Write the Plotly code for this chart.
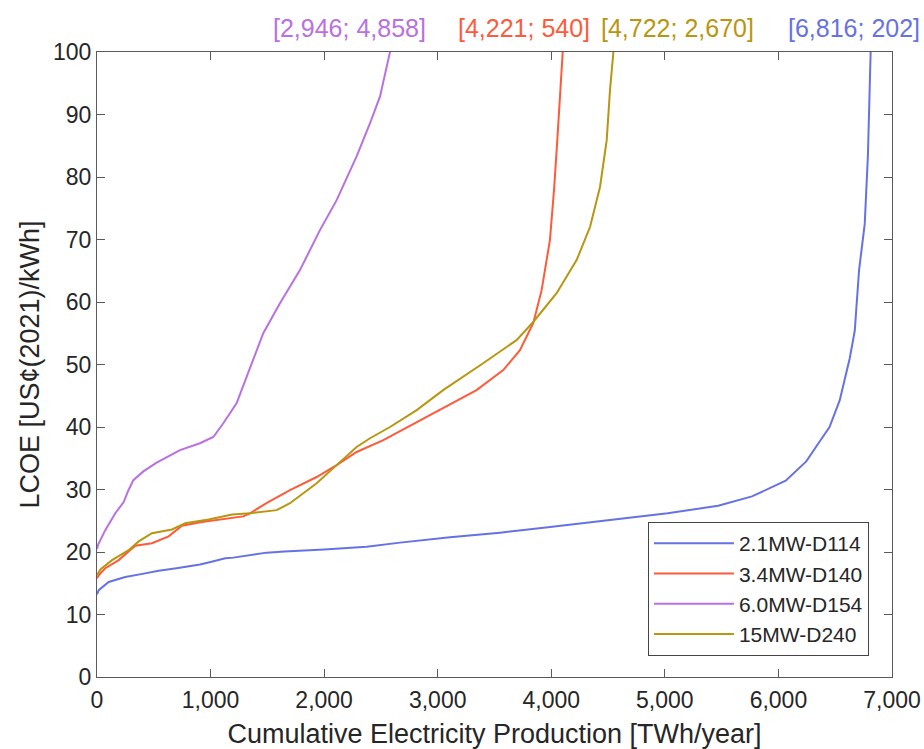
import plotly.graph_objects as go

# ---- data ----
names = ["2.1MW-D114", "3.4MW-D140", "6.0MW-D154", "15MW-D240"]

blue_x = [0, 15, 103, 249, 400, 543, 700, 836, 907, 1000, 1130, 1200, 1350, 1494, 1650, 1787, 2000,
          2374, 2668, 3108, 3548, 3990, 4580, 5025, 5470, 5767, 6064, 6245, 6360, 6450, 6540, 6597,
          6628, 6672, 6710, 6760, 6788, 6812, 6816]
blue_y = [13.2, 13.9, 15.2, 16.0, 16.5, 17.0, 17.4, 17.8, 18.0, 18.4, 19.0, 19.1, 19.5, 19.9, 20.1,
          20.2, 20.4, 20.85, 21.5, 22.35, 23.1, 24.0, 25.3, 26.2, 27.4, 28.9, 31.4, 34.5, 37.6, 40.0,
          44.3, 48.6, 51.0, 55.4, 65.1, 72.5, 83.5, 100, 202]

red_x = [0, 30, 73, 191, 337, 484, 631, 700, 748, 924, 1189, 1288, 1347, 1500, 1699, 1934, 2110,
         2286, 2521, 2961, 3342, 3577, 3724, 3841, 3915, 3988, 4024, 4053, 4077, 4100, 4221]
red_y = [15.8, 16.6, 17.4, 18.7, 21.0, 21.4, 22.5, 23.5, 24.2, 24.8, 25.4, 25.7, 26.2, 27.9, 29.9,
         32.0, 33.9, 36.0, 37.9, 42.2, 45.9, 49.1, 52.3, 56.6, 61.9, 69.9, 77.9, 85.9, 93.9, 99.8, 540]

purple_x = [0, 10, 73, 161, 235, 275, 320, 408, 525, 731, 907, 1024, 1112, 1229, 1273, 1376, 1464,
            1611, 1787, 1963, 2110, 2286, 2404, 2492, 2551, 2580, 2946]
purple_y = [20.5, 21.2, 23.5, 26.2, 28.0, 29.8, 31.5, 32.9, 34.3, 36.3, 37.4, 38.4, 40.6, 43.8, 45.9,
            50.7, 55.0, 59.8, 65.1, 71.5, 76.3, 83.3, 88.6, 92.9, 97.7, 100, 4858]

gold_x = [0, 30, 132, 279, 367, 484, 660, 777, 983, 1189, 1347, 1450, 1582, 1699, 1934, 2110, 2286,
          2404, 2580, 2815, 3048, 3400, 3694, 3841, 4047, 4223, 4341, 4429, 4488, 4517, 4546, 4722]
gold_y = [16.3, 17.2, 18.7, 20.3, 21.7, 23.0, 23.6, 24.6, 25.2, 26.0, 26.2, 26.4, 26.7, 27.8, 31.0,
          33.9, 36.8, 38.2, 40.0, 42.7, 45.9, 50.2, 53.9, 56.8, 61.4, 66.7, 72.0, 78.4, 85.9, 93.9,
          99.8, 2670]

max_labels = ["[6,816; 202]", "[4,221; 540]", "[2,946; 4,858]", "[4,722; 2,670]"]

x_ticks = [0, 1000, 2000, 3000, 4000, 5000, 6000, 7000]
y_ticks = [0, 10, 20, 30, 40, 50, 60, 70, 80, 90, 100]

# ---- styling ----
colors = ["#6672e3", "#ff5a3a", "#b870e3", "#b8960f"]
label_pos = [(1.0377, "right"), (0.537, "center"), (0.317, "center"), (0.730, "center")]
FONT = "Liberation Sans, Arial, Helvetica, sans-serif"
AX = "#5a5a5a"

fig = go.Figure()
series = [(blue_x, blue_y), (red_x, red_y), (purple_x, purple_y), (gold_x, gold_y)]
for (xs, ys), nm, c in zip(series, names, colors):
    fig.add_trace(go.Scatter(x=xs, y=ys, mode="lines", name=nm,
                             line=dict(color=c, width=2)))

for lab, (px, anc), c in zip(max_labels, label_pos, colors):
    fig.add_annotation(text=lab, xref="paper", yref="paper", x=px, y=1.0376,
                       xanchor=anc, yanchor="middle", showarrow=False,
                       font=dict(family=FONT, size=25, color=c))

fig.update_layout(
    width=924, height=749,
    margin=dict(l=97, r=32, t=52, b=72, autoexpand=False),
    plot_bgcolor="white", paper_bgcolor="white",
    font=dict(family=FONT, size=23, color="#262626"),
    showlegend=True,
    legend=dict(x=0.971, y=0.0336, xanchor="right", yanchor="bottom",
                bgcolor="white", bordercolor="#444", borderwidth=1,
                font=dict(family=FONT, size=21, color="#262626"),
                itemwidth=80, tracegroupgap=0),
)
fig.update_xaxes(range=[0, 7000], tickvals=x_ticks, tickformat=",d", automargin=False,
                 showline=True, mirror="ticks", linecolor=AX, linewidth=1,
                 ticks="inside", ticklen=8, tickcolor=AX, ticklabelstandoff=2,
                 showgrid=False, zeroline=False,
                 title=dict(text="Cumulative Electricity Production [TWh/year]",
                            font=dict(size=27), standoff=14))
fig.update_yaxes(range=[0, 100], tickvals=y_ticks, automargin=False,
                 showline=True, mirror="ticks", linecolor=AX, linewidth=1,
                 ticks="inside", ticklen=8, tickcolor=AX,
                 showgrid=False, zeroline=False,
                 title=dict(text="LCOE [US¢(2021)/kWh]", font=dict(size=27), standoff=5))

fig.write_html("out.html", config={"displayModeBar": False},
               post_script="document.body.style.margin='0';document.body.style.overflow='hidden';")
